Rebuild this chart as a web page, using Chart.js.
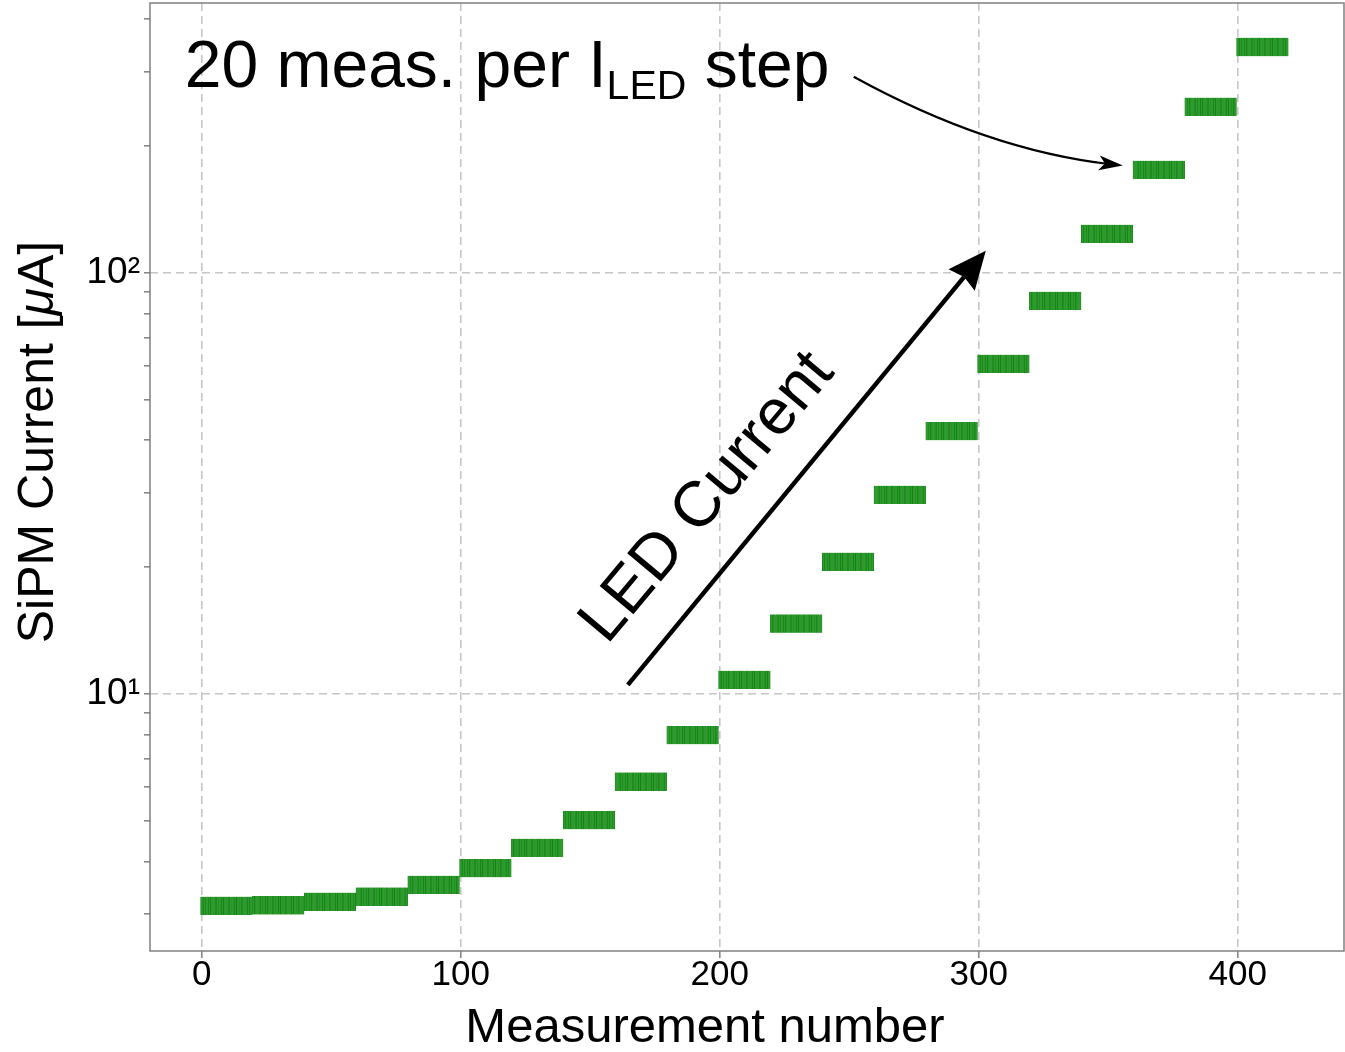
<!DOCTYPE html>
<html>
<head>
<meta charset="utf-8">
<script src="https://cdn.jsdelivr.net/npm/chart.js@4.4.1/dist/chart.umd.min.js"></script>
<style>
  body { margin: 0; background: #fff; }
  #wrap { width: 1345px; height: 1052px; }
</style>
</head>
<body>
<div id="wrap"><canvas id="sipmChart" width="1345" height="1052"></canvas></div>
<script>
// SiPM current for each measurement, 20 measurements per LED current step
const measPerStep = 20;
const stepLevels = [3.14, 3.15, 3.21, 3.30, 3.52, 3.86, 4.31, 5.02, 6.19, 7.99, 10.8,
                    14.7, 20.6, 29.7, 42.1, 60.8, 85.8, 123.8, 175.7, 248, 344];
const relError = 0.05;
const xTickVals = [0, 100, 200, 300, 400];
const yTickVals = [3, 4, 5, 6, 7, 8, 9, 10, 20, 30, 40, 50, 60, 70, 80, 90, 100, 200, 300, 400];
const yMajorVals = [10, 100];
const yTickText = { 10: '10\u00B9', 100: '10\u00B2' };

const FONT = '"Liberation Sans", Arial, sans-serif';
const gridColor = '#c6c6c6';

// one floating bar (the error bar) per measurement
const points = [];
stepLevels.forEach((level, s) => {
    for (let k = 0; k < measPerStep; k++) {
        points.push({ x: s * measPerStep + k, y: [level * (1 - relError), level * (1 + relError)] });
    }
});

function arrowHead(ctx, x, y, angle, len, half, notch) {
    ctx.save();
    ctx.translate(x, y);
    ctx.rotate(angle);
    ctx.beginPath();
    ctx.moveTo(0, 0);
    ctx.lineTo(-len, -half);
    ctx.lineTo(-len + notch, 0);
    ctx.lineTo(-len, half);
    ctx.closePath();
    ctx.fill();
    ctx.restore();
}

// annotations, placed in data coordinates
const annotations = {
    stepText: { x: -6.6, y: 276.6 },
    curveStart: { x: 251.7, y: 292 },
    curveCtrl: { x: 303.3, y: 195.4 },
    curveEnd: { x: 355.6, y: 179.6 },
    ledStart: { x: 164.5, y: 10.5 },
    ledEnd: { x: 302.7, y: 112.8 },
    ledText: { x: 195.4, y: 29.2 }
};

const sipmPlugin = {
    id: 'sipmPlugin',
    afterDraw(chart) {
        const { ctx, chartArea: a, scales: { x, y } } = chart;
        const px = p => ({ x: x.getPixelForValue(p.x), y: y.getPixelForValue(p.y) });
        ctx.save();

        // frame
        ctx.strokeStyle = '#808080';
        ctx.lineWidth = 1.5;
        ctx.strokeRect(a.left, a.top, a.right - a.left, a.bottom - a.top);

        ctx.fillStyle = '#000';
        ctx.strokeStyle = '#000';

        // axis titles
        ctx.textBaseline = 'alphabetic';
        ctx.font = '49px ' + FONT;
        ctx.textAlign = 'center';
        ctx.fillText('Measurement number', 705, 1042);

        ctx.save();
        ctx.translate(53, 442);
        ctx.rotate(-Math.PI / 2);
        const partA = 'SiPM Current [', partB = '\u03BC', partC = 'A]';
        ctx.font = '50px ' + FONT;
        const wA = ctx.measureText(partA).width, wC = ctx.measureText(partC).width;
        ctx.font = 'italic 50px ' + FONT;
        const wB = ctx.measureText(partB).width;
        let tx = -(wA + wB + wC) / 2;
        ctx.textAlign = 'left';
        ctx.font = '50px ' + FONT;
        ctx.fillText(partA, tx, 0);
        ctx.font = 'italic 50px ' + FONT;
        ctx.fillText(partB, tx + wA, 0);
        ctx.font = '50px ' + FONT;
        ctx.fillText(partC, tx + wA + wB, 0);
        ctx.restore();

        // "20 meas. per I_LED step"
        const st = px(annotations.stepText);
        ctx.textAlign = 'left';
        ctx.font = '66px ' + FONT;
        const main = '20 meas. per I';
        ctx.fillText(main, st.x, st.y);
        let cx = st.x + ctx.measureText(main).width;
        ctx.font = '41px ' + FONT;
        ctx.fillText('LED', cx, st.y + 12);
        cx += ctx.measureText('LED').width;
        ctx.font = '66px ' + FONT;
        ctx.fillText(' step', cx, st.y);

        // curved arrow to a step
        const p0 = px(annotations.curveStart), pc = px(annotations.curveCtrl), p2 = px(annotations.curveEnd);
        const endAng = Math.atan2(p2.y - pc.y, p2.x - pc.x);
        ctx.lineWidth = 2.2;
        ctx.beginPath();
        ctx.moveTo(p0.x, p0.y);
        ctx.quadraticCurveTo(pc.x, pc.y, p2.x - 12 * Math.cos(endAng), p2.y - 12 * Math.sin(endAng));
        ctx.stroke();
        arrowHead(ctx, p2.x, p2.y, endAng, 24, 7.5, 6);

        // LED current arrow
        const l0 = px(annotations.ledStart), l1 = px(annotations.ledEnd);
        const ang = Math.atan2(l1.y - l0.y, l1.x - l0.x);
        ctx.lineWidth = 4.5;
        ctx.beginPath();
        ctx.moveTo(l0.x, l0.y);
        ctx.lineTo(l1.x - 34 * Math.cos(ang), l1.y - 34 * Math.sin(ang));
        ctx.stroke();
        arrowHead(ctx, l1.x, l1.y, ang, 38, 17, 4);

        const lt = px(annotations.ledText);
        ctx.save();
        ctx.translate(lt.x, lt.y);
        ctx.rotate(-50 * Math.PI / 180);
        ctx.textAlign = 'center';
        ctx.textBaseline = 'middle';
        ctx.font = '64px ' + FONT;
        ctx.fillText('LED Current', 0, 0);
        ctx.restore();

        ctx.restore();
    }
};

new Chart(document.getElementById('sipmChart'), {
    type: 'bar',
    data: {
        datasets: [{
            label: 'SiPM current',
            data: points,
            backgroundColor: '#2a9e2a',
            borderColor: '#0f720f',
            borderWidth: { left: 0.6, right: 0.6, top: 0, bottom: 0 },
            borderSkipped: false,
            barThickness: 2.4,
            grouped: false
        }]
    },
    options: {
        responsive: false,
        animation: false,
        layout: { padding: { top: 3, right: 1, left: 0, bottom: 0 } },
        plugins: { legend: { display: false }, tooltip: { enabled: false } },
        scales: {
            x: {
                type: 'linear',
                min: -20,
                max: 441,
                offset: false,
                afterBuildTicks: axis => { axis.ticks = xTickVals.map(v => ({ value: v })); },
                afterFit: axis => { axis.height = 101; axis.paddingLeft = 0; axis.paddingRight = 0; },
                grid: { color: gridColor, lineWidth: 1.6, offset: false, tickLength: 7, tickColor: '#888' },
                border: { display: false, dash: [8, 5] },
                ticks: {
                    autoSkip: false,
                    maxRotation: 0,
                    padding: 0,
                    color: '#000',
                    font: { family: FONT, size: 35, lineHeight: 1 },
                    callback: v => String(v)
                }
            },
            y: {
                type: 'logarithmic',
                min: 2.45,
                max: 437,
                afterBuildTicks: axis => { axis.ticks = yTickVals.map(v => ({ value: v })); },
                afterFit: axis => { axis.width = 150; axis.paddingTop = 0; axis.paddingBottom = 0; },
                grid: {
                    color: c => yMajorVals.includes(c.tick && c.tick.value) ? gridColor : 'rgba(0,0,0,0)',
                    lineWidth: 1.6,
                    tickLength: 6,
                    tickColor: '#888'
                },
                border: { display: false, dash: [8, 5] },
                ticks: {
                    autoSkip: false,
                    padding: 4,
                    color: '#000',
                    font: { family: FONT, size: 37 },
                    callback: v => yTickText[v] || ''
                }
            }
        }
    },
    plugins: [sipmPlugin]
});
</script>
</body>
</html>
